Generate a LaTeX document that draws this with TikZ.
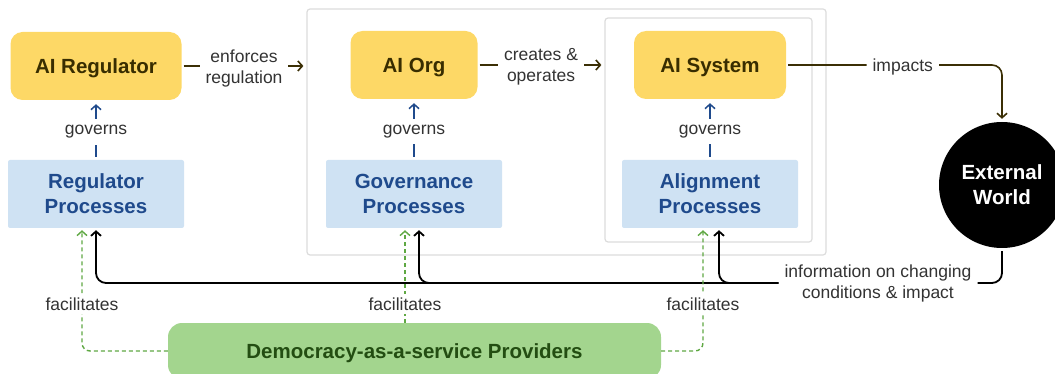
\documentclass[tikz,border=0pt]{standalone}
\usepackage{fontspec}
\setmainfont{Liberation Sans}
\usetikzlibrary{arrows.meta}
\definecolor{yel}{HTML}{FDD866}
\definecolor{yeltext}{HTML}{382D00}
\definecolor{bluebox}{HTML}{CFE2F3}
\definecolor{bluetext}{HTML}{1F4A8C}
\definecolor{greenbox}{HTML}{A3D58E}
\definecolor{greentext}{HTML}{234D12}
\definecolor{greenline}{HTML}{5FA843}
\definecolor{framegray}{HTML}{DCDCDC}
\definecolor{lbltext}{HTML}{333333}
\definecolor{arrbrown}{HTML}{3B2F05}
\tikzset{
  actor/.style={fill=yel, rounded corners=12pt, text=yeltext, minimum height=68pt,
    text depth=0pt, font=\bfseries\fontsize{20.5}{24}\selectfont},
  proc/.style={fill=bluebox, rounded corners=2pt, text=bluetext, align=center,
    minimum width=176pt, minimum height=68pt, font=\bfseries\fontsize{20.5}{25}\selectfont},
  world/.style={circle, fill=black, text=white, align=center, minimum size=126pt,
    font=\bfseries\fontsize{20.5}{25}\selectfont},
  demo/.style={fill=greenbox, rounded corners=14pt, text=greentext, minimum width=493pt,
    minimum height=56pt, text depth=0pt, font=\bfseries\fontsize{20.5}{24}\selectfont},
  frame/.style={draw=framegray, line width=1.2pt, rounded corners=3pt},
  lbl/.style={fill=white, text=lbltext, align=center, inner xsep=6pt, inner ysep=4pt,
    yshift=-2pt, font=\fontsize{17.5}{21}\selectfont},
  tip/.style={-{Straight Barb[length=4.5pt,width=10pt]}},
  act/.style={tip, draw=arrbrown, line width=1.6pt, shorten <=2pt, shorten >=3pt},
  gov/.style={tip, draw=bluetext, line width=1.5pt, shorten <=3pt, shorten >=4pt},
  fb/.style={draw=black, line width=1.8pt},
  fac/.style={tip, draw=greenline, line width=1.4pt, dash pattern=on 4pt off 3pt}
}
\begin{document}
\begin{tikzpicture}[x=1pt,y=-1pt]
\useasboundingbox (0,0) rectangle (1055,374);

%frames
\node[frame, minimum width=519pt, minimum height=246pt] (outer) at (566.5,132) {};
\node[frame, minimum width=207pt, minimum height=224pt] (inner) at (708.5,130) {};

%actors
\node[actor, minimum width=171pt] (reg) at (96,66) {AI Regulator};
\node[actor, minimum width=127pt] (org) at (414,65) {AI Org};
\node[actor, minimum width=152pt] (sys) at (710,65) {AI System};

%processes
\node[proc] (regp) at (96,194) {Regulator\\Processes};
\node[proc] (govp) at (414,194) {Governance\\Processes};
\node[proc] (alip) at (710,194) {Alignment\\Processes};

\node[world] (ext) at (1002,185) {External\\World};
\node[demo] (dem) at (414.5,351) {Democracy-as-a-service Providers};

%top row
\draw[act] (reg.east) -- node[lbl]{enforces\\regulation} (outer.west |- reg.east);
\draw[act] (org.east) -- node[lbl]{creates \&\\operates} (inner.west |- org.east);
\draw[act, rounded corners=10pt] (sys.east) -| node[lbl, pos=0.27]{impacts} (ext.north);

%governs
\foreach \p/\a in {regp/reg, govp/org, alip/sys}
  \draw[gov] (\p.north) -- node[lbl, inner ysep=6pt]{governs} (\a.south);

%feedback
\node[lbl, yshift=0pt] (info) at (878,281) {information on changing\\conditions \& impact};
\draw[fb, rounded corners=10pt, shorten <=3pt] (ext.south) |- (info.east);
\foreach \p/\s in {regp/0, govp/5, alip/9}
  \draw[fb, tip, rounded corners=10pt, shorten >=2pt] (info.west) -| ([xshift=\s pt]\p.south);

%facilitates
\coordinate (govin) at ([xshift=-9pt]govp.south);
\draw[fac, rounded corners=8pt, shorten >=2pt] (dem.west) -| node[lbl, pos=0.7]{facilitates} ([xshift=-14pt]regp.south);
\draw[fac, shorten >=2pt] (dem.north -| govin) -- node[lbl, pos=0.22]{facilitates} (govin);
\draw[fac, rounded corners=8pt, shorten >=2pt] (dem.east) -| node[lbl, pos=0.7]{facilitates} ([xshift=-7pt]alip.south);
\end{tikzpicture}
\end{document}
